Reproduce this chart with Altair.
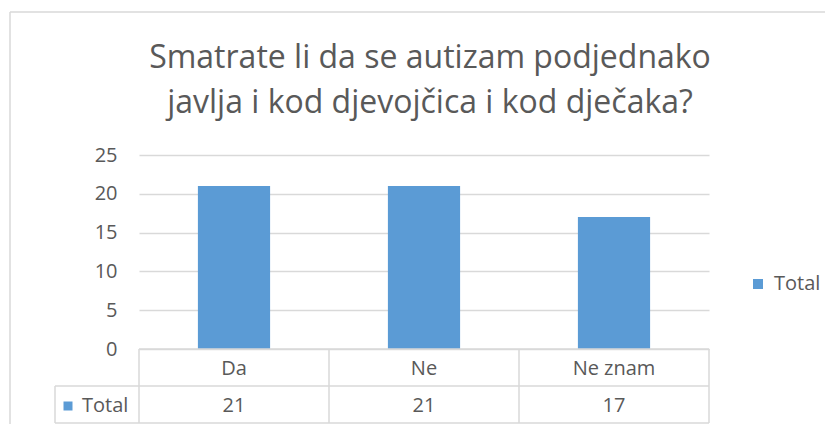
import altair as alt
import pandas as pd

categories = ["Da", "Ne", "Ne znam"]
values = [21, 21, 17]
series_name = "Total"
y_ticks = [0, 5, 10, 15, 20, 25]
title_lines = ["Smatrate li da se autizam podjednako", "javlja i kod djevojčica i kod dječaka?"]

df = pd.DataFrame({"cat": categories, "val": values, "series": [series_name] * len(categories)})
one = pd.DataFrame({"k": [0]})
last = pd.DataFrame({"cat": [categories[-1]]})

W, H = 570, 194
FONT = "Open Sans"
GRAY = "#595959"
LINE = "#d9d9d9"
BLUE = "#5b9bd5"
ROW1 = 37
ROW2 = 74

xscale = alt.Scale(domain=categories, paddingInner=0, paddingOuter=0)
yscale = alt.Scale(domain=[0, 25])
xenc = alt.X("cat:N", scale=xscale, sort=categories, axis=None)

bars = alt.Chart(df).mark_bar(width=alt.RelativeBandSize(0.38)).encode(
    x=xenc,
    y=alt.Y("val:Q", scale=yscale,
            axis=alt.Axis(values=y_ticks, title=None, domain=False, ticks=False,
                          gridColor=LINE, gridWidth=1.3, labelFont=FONT, labelFontSize=20,
                          labelColor=GRAY, labelPadding=22)),
    color=alt.Color("series:N", scale=alt.Scale(range=[BLUE]),
                    legend=alt.Legend(title=None, orient="none", legendX=609, legendY=119,
                                      symbolType="square", symbolSize=100, symbolStrokeWidth=0,
                                      labelFont=FONT, labelFontSize=20, labelColor=GRAY,
                                      labelOffset=6)),
)

# table: vertical lines at category boundaries
vlines = alt.Chart(df).mark_rule(color=LINE, strokeWidth=1.5).encode(
    x=alt.X("cat:N", scale=xscale, sort=categories, axis=None, bandPosition=0),
    y=alt.value(H), y2=alt.value(H + ROW2),
)
vline_end = alt.Chart(last).mark_rule(color=LINE, strokeWidth=1.5).encode(
    x=alt.X("cat:N", scale=xscale, sort=categories, axis=None, bandPosition=1),
    y=alt.value(H), y2=alt.value(H + ROW2),
)
hline_top = alt.Chart(one).mark_rule(color=LINE, strokeWidth=1.5).encode(
    x=alt.value(0), x2=alt.value(W), y=alt.value(H))
hline_mid = alt.Chart(one).mark_rule(color=LINE, strokeWidth=1.5).encode(
    x=alt.value(-84), x2=alt.value(W), y=alt.value(H + ROW1))
hline_bot = alt.Chart(one).mark_rule(color=LINE, strokeWidth=1.5).encode(
    x=alt.value(-84), x2=alt.value(W), y=alt.value(H + ROW2))
vline_left = alt.Chart(one).mark_rule(color=LINE, strokeWidth=1.5).encode(
    x=alt.value(-84), y=alt.value(H + ROW1), y2=alt.value(H + ROW2))

cat_text = alt.Chart(df).mark_text(font=FONT, fontSize=20, color=GRAY, baseline="middle").encode(
    x=xenc, y=alt.value(H + 20), text="cat:N")
val_text = alt.Chart(df).mark_text(font=FONT, fontSize=20, color=GRAY, baseline="middle").encode(
    x=xenc, y=alt.value(H + 57), text="val:Q")
key_sq = alt.Chart(one).mark_point(shape="square", size=81, filled=True, color=BLUE, opacity=1).encode(
    x=alt.value(-71), y=alt.value(H + 57))
key_txt = alt.Chart(pd.DataFrame({"t": [series_name]})).mark_text(
    font=FONT, fontSize=20, color=GRAY, baseline="middle", align="left").encode(
    x=alt.value(-57), y=alt.value(H + 57), text="t:N")

# chart border (top and left edges)
border_top = alt.Chart(one).mark_rule(color=LINE, strokeWidth=1.5).encode(
    x=alt.value(-129), x2=alt.value(W + 200), y=alt.value(-143))
border_left = alt.Chart(one).mark_rule(color=LINE, strokeWidth=1.5).encode(
    x=alt.value(-129), y=alt.value(-143), y2=alt.value(H + 200))

t1 = alt.Chart(pd.DataFrame({"t": [title_lines[0]]})).mark_text(
    font=FONT, fontSize=32, fontWeight=400, color=GRAY, baseline="alphabetic").encode(
    x=alt.value(291), y=alt.value(-87), text="t:N")
t2 = alt.Chart(pd.DataFrame({"t": [title_lines[1]]})).mark_text(
    font=FONT, fontSize=32, fontWeight=400, color=GRAY, baseline="alphabetic").encode(
    x=alt.value(291), y=alt.value(-42), text="t:N")

chart = alt.layer(
    bars, vlines, vline_end, hline_top, hline_mid, hline_bot, vline_left,
    cat_text, val_text, key_sq, key_txt, border_top, border_left, t1, t2
).properties(
    width=W, height=H,
    autosize=alt.AutoSizeParams(type="none"),
    padding={"left": 131, "top": 147, "right": 116, "bottom": 75},
    background="white",
).configure_view(stroke=None)

chart.save("out.html", embed_options={"renderer": "svg", "actions": False})
